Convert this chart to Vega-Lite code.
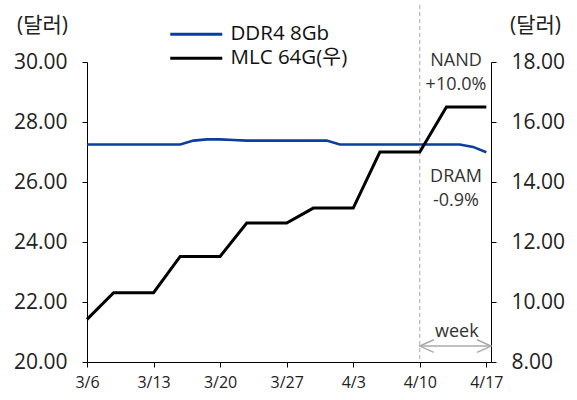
{
  "$schema": "https://vega.github.io/schema/vega-lite/v6.json",
  "width": 404,
  "height": 300,
  "autosize": "none",
  "padding": {"left": 87, "top": 62, "right": 86, "bottom": 38},
  "background": "#ffffff",
  "config": {
    "font": "Open Sans, Noto Sans CJK KR",
    "view": {"stroke": null},
    "axis": {"grid": false, "domainColor": "#000000", "tickColor": "#000000", "labelColor": "#222222", "titleColor": "#222222", "labelFont": "Open Sans, Noto Sans CJK KR", "titleFont": "Open Sans, Noto Sans CJK KR", "tickSize": 5},
    "axisX": {
      "tickCount": 7,
      "labelExpr": "['3/6','3/13','3/20','3/27','4/3','4/10','4/17'][round(datum.value/5)]",
      "labelFontSize": 16, "labelPadding": 7, "labelFlush": false, "labelOverlap": false
    },
    "axisY": {
      "tickCount": 6,
      "labelExpr": "format(datum.value, '.2f')",
      "titleAngle": 0, "titleY": -37, "titleAlign": "center", "titleBaseline": "middle",
      "titleFontSize": 21, "titleFontWeight": "normal",
      "labelFontSize": 21, "labelPadding": 15
    },
    "axisLeft": {"titleX": -45},
    "axisRight": {"titleX": 44}
  },
  "datasets": {
    "ddr4": [
      {"day": 0, "date": "3/6", "v": 27.25},
      {"day": 7, "date": "3/15", "v": 27.25},
      {"day": 8, "date": "3/16", "v": 27.38},
      {"day": 9, "date": "3/17", "v": 27.42},
      {"day": 10, "date": "3/20", "v": 27.42},
      {"day": 11, "date": "3/21", "v": 27.4},
      {"day": 12, "date": "3/22", "v": 27.38},
      {"day": 18, "date": "3/30", "v": 27.38},
      {"day": 19, "date": "3/31", "v": 27.25},
      {"day": 28, "date": "4/13", "v": 27.25},
      {"day": 29, "date": "4/14", "v": 27.17},
      {"day": 30, "date": "4/17", "v": 26.99}
    ],
    "mlc": [
      {"day": 0, "date": "3/6", "v": 9.42},
      {"day": 2, "date": "3/8", "v": 10.31},
      {"day": 5, "date": "3/13", "v": 10.31},
      {"day": 7, "date": "3/15", "v": 11.52},
      {"day": 10, "date": "3/20", "v": 11.52},
      {"day": 12, "date": "3/22", "v": 12.63},
      {"day": 15, "date": "3/27", "v": 12.63},
      {"day": 17, "date": "3/29", "v": 13.13},
      {"day": 20, "date": "4/3", "v": 13.13},
      {"day": 22, "date": "4/5", "v": 15.0},
      {"day": 25, "date": "4/10", "v": 15.0},
      {"day": 27, "date": "4/12", "v": 16.5},
      {"day": 30, "date": "4/17", "v": 16.5}
    ],
    "notes": [
      {"day": 27.72, "v": 30.05, "label": "NAND"},
      {"day": 27.72, "v": 29.22, "label": "+10.0%"},
      {"day": 27.72, "v": 26.18, "label": "DRAM"},
      {"day": 27.72, "v": 25.38, "label": "-0.9%"},
      {"day": 27.78, "v": 21.01, "label": "week"}
    ],
    "marker": [{"day": 25, "v": 31.9, "v2": 20}],
    "shaft": [{"day": 25, "day2": 30.35, "v": 20.53}],
    "heads": [
      {"day": 25, "v": 20.53, "dir": "left"},
      {"day": 30.35, "v": 20.53, "dir": "right"}
    ]
  },
  "layer": [
    {
      "layer": [
        {
          "data": {"name": "ddr4"},
          "mark": {"type": "line", "strokeWidth": 2.6},
          "encoding": {
            "x": {"field": "day", "type": "quantitative", "title": null,
              "scale": {"domain": [0, 30.35], "nice": false, "zero": false}},
            "y": {"field": "v", "type": "quantitative", "title": "(달러)",
              "scale": {"domain": [20, 30], "nice": false, "zero": false}},
            "color": {
              "datum": "DDR4 8Gb",
              "scale": {"domain": ["DDR4 8Gb", "MLC 64G(우)"], "range": ["#0b3d9e", "#000000"]},
              "legend": {
                "orient": "none", "legendX": 99, "legendY": -38, "title": null,
                "symbolType": "M-5.2,0L5.2,0", "symbolSize": 100, "symbolStrokeWidth": 3,
                "labelFontSize": 20.5, "labelOffset": 24, "rowPadding": 3, "padding": 0,
                "labelColor": "#111111", "labelLimit": 300
              }
            }
          }
        },
        {
          "data": {"name": "marker"},
          "mark": {"type": "rule", "strokeDash": [4, 3], "color": "#aaaaaa", "strokeWidth": 1},
          "encoding": {
            "x": {"field": "day", "type": "quantitative", "title": null},
            "y": {"field": "v", "type": "quantitative", "title": "(달러)"},
            "y2": {"field": "v2"}
          }
        },
        {
          "data": {"name": "notes"},
          "mark": {"type": "text", "fontSize": 18, "color": "#333333", "align": "center", "baseline": "middle"},
          "encoding": {
            "x": {"field": "day", "type": "quantitative", "title": null},
            "y": {"field": "v", "type": "quantitative", "title": "(달러)"},
            "text": {"field": "label"}
          }
        },
        {
          "data": {"name": "shaft"},
          "mark": {"type": "rule", "color": "#aaaaaa", "strokeWidth": 1.5},
          "encoding": {
            "x": {"field": "day", "type": "quantitative", "title": null},
            "x2": {"field": "day2"},
            "y": {"field": "v", "type": "quantitative", "title": "(달러)"}
          }
        },
        {
          "data": {"name": "heads"},
          "mark": {"type": "point", "filled": false, "stroke": "#aaaaaa", "strokeWidth": 1.5, "size": 100, "opacity": 1},
          "encoding": {
            "x": {"field": "day", "type": "quantitative", "title": null},
            "y": {"field": "v", "type": "quantitative", "title": "(달러)"},
            "shape": {
              "field": "dir", "type": "nominal",
              "scale": {"domain": ["left", "right"], "range": ["M2.8,-1.26L0,0L2.8,1.26", "M-2.8,-1.26L0,0L-2.8,1.26"]},
              "legend": null
            }
          }
        }
      ]
    },
    {
      "layer": [
        {
          "data": {"name": "mlc"},
          "mark": {"type": "line", "strokeWidth": 3},
          "encoding": {
            "x": {"field": "day", "type": "quantitative", "title": null},
            "y": {
              "field": "v", "type": "quantitative", "title": "(달러)",
              "scale": {"domain": [8, 18], "nice": false, "zero": false},
              "axis": {"orient": "right"}
            },
            "color": {"datum": "MLC 64G(우)"}
          }
        }
      ]
    }
  ],
  "resolve": {"scale": {"y": "independent"}}
}
